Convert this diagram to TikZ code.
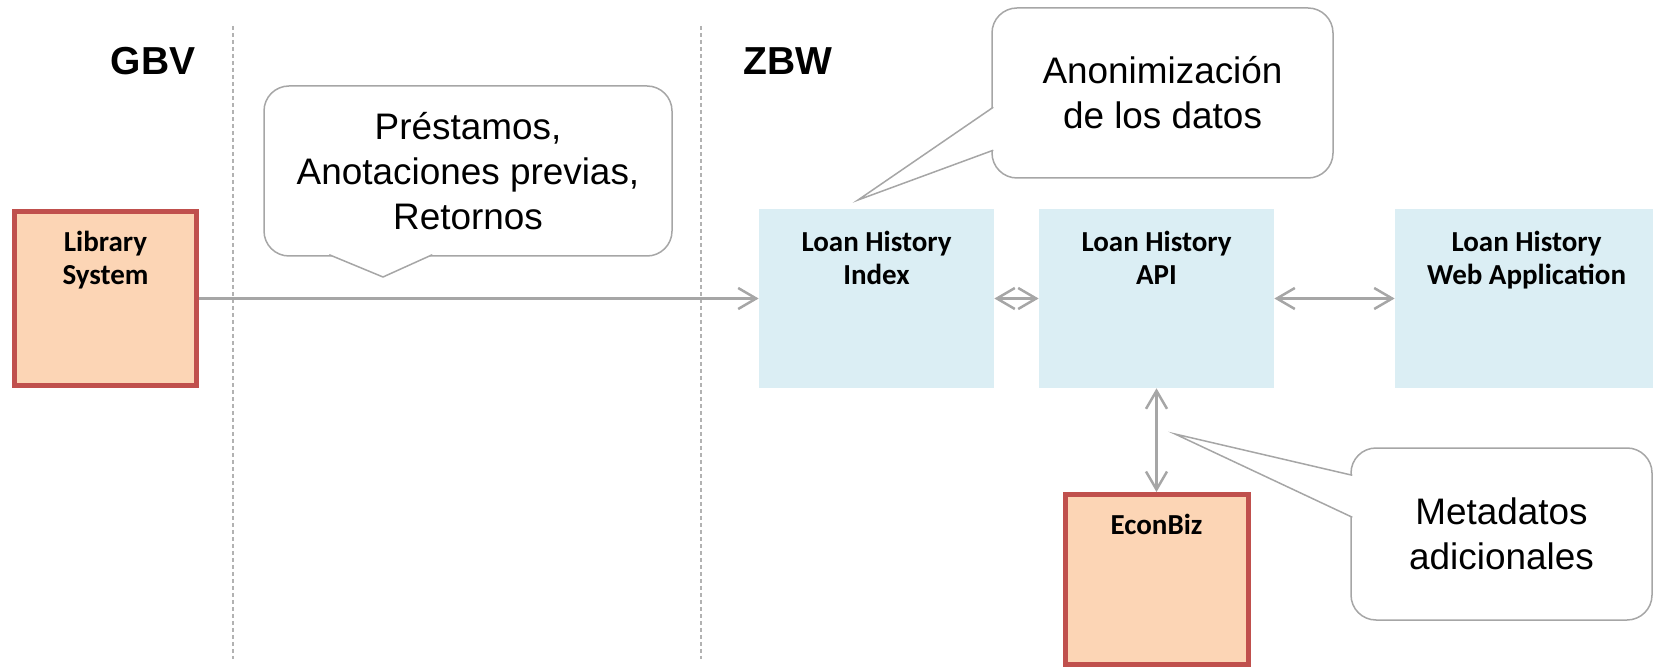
\documentclass[tikz,border=0pt]{standalone}
\usepackage{fontspec}
\setmainfont{Liberation Sans}
\newfontfamily\boxfont{Carlito}
\usepackage{tikz}
\usetikzlibrary{arrows.meta, positioning}
\definecolor{boxblue}{RGB}{219,238,244}
\definecolor{boxorange}{RGB}{252,213,181}
\definecolor{boxred}{RGB}{192,80,77}
\definecolor{linegray}{RGB}{166,166,166}
\definecolor{dashgray}{RGB}{178,178,178}
\tikzset{
  loanbox/.style={fill=boxblue, minimum width=4.7cm, minimum height=3.58cm, inner sep=0},
  extbox/.style={fill=boxorange, draw=boxred, line width=0.1cm, minimum width=3.65cm, minimum height=3.48cm, inner sep=0},
  boxlabel/.style={anchor=north, yshift=-0.44cm, inner sep=0, align=center, font=\boxfont\bfseries\fontsize{16.5}{18.8}\selectfont},
  callout/.style={draw=linegray, line width=0.03cm, fill=white, rounded corners=0.5cm, align=center, font=\fontsize{21}{25.6}\selectfont},
  calloutline/.style={draw=linegray, line width=0.03cm, fill=white},
  conn/.style={draw=linegray, line width=0.05cm},
  orgname/.style={font=\bfseries\fontsize{22.2}{26}\selectfont},
}

\begin{document}
\begin{tikzpicture}[>={Straight Barb[length=0.36cm,width=0.42cm]}]
        \useasboundingbox (0,0) rectangle (33.06,13.36);
        \foreach \x in {4.66,14.02}
        \draw[dashgray, line width=0.03cm, dash pattern=on 0.08cm off 0.06cm] (\x,12.84)--(\x,0.18);

        \node[orgname] (gbv) at (3.06,12.14) {GBV};
        \node[orgname] (zbw) at (15.76,12.14) {ZBW};

        \node[extbox, label={[boxlabel]north:{Library\\System}}] (library) at (2.11,7.39) {};
        \node[loanbox, label={[boxlabel]north:{Loan History\\Index}}] (index) at (17.53,7.39) {};
        \node[loanbox, label={[boxlabel]north:{Loan History\\API}}] (api) at (23.13,7.39) {};
        \node[loanbox, minimum width=5.26cm, label={[boxlabel]north:{Loan History\\Web Application}}] (web) at (30.53,7.39) {};
        \node[extbox, minimum width=3.66cm, minimum height=3.4cm, label={[boxlabel]north:{EconBiz}}] (econbiz) at (23.13,1.77) {};

        \draw[conn, ->] (library) -- (index);
        \draw[conn, <->] (index) -- (api);
        \draw[conn, <->] (api) -- (web);
        \draw[conn, <->] (api) -- (econbiz);

        \node[callout, minimum width=8.16cm, minimum height=3.4cm] (loans) at (9.36,9.94) {Préstamos,\\Anotaciones previas,\\Retornos};
        \coordinate (loanstip) at (7.66,7.82);
        \draw[calloutline] ([xshift=1.32cm,yshift=0.04cm]loans.south west) -- (loanstip) -- ([xshift=3.38cm,yshift=0.04cm]loans.south west);

        \node[callout, minimum width=6.82cm, minimum height=3.4cm] (anon) at (23.25,11.5) {Anonimización\\de los datos};
        \coordinate (anontip) at (17.16,9.36);
        \draw[calloutline] ([xshift=0.04cm,yshift=-2cm]anon.north west) -- (anontip) -- ([xshift=0.04cm,yshift=-2.86cm]anon.north west);

        \node[callout, minimum width=6.02cm, minimum height=3.44cm, yshift=-0.04cm] (meta) at (30.03,2.72) {Metadatos\\adicionales};
        \coordinate (metatip) at (23.5,4.68);
        \draw[calloutline] ([xshift=0.04cm,yshift=-0.56cm]meta.north west) -- (metatip) -- ([xshift=0.04cm,yshift=-1.4cm]meta.north west);
\end{tikzpicture}
\end{document}
